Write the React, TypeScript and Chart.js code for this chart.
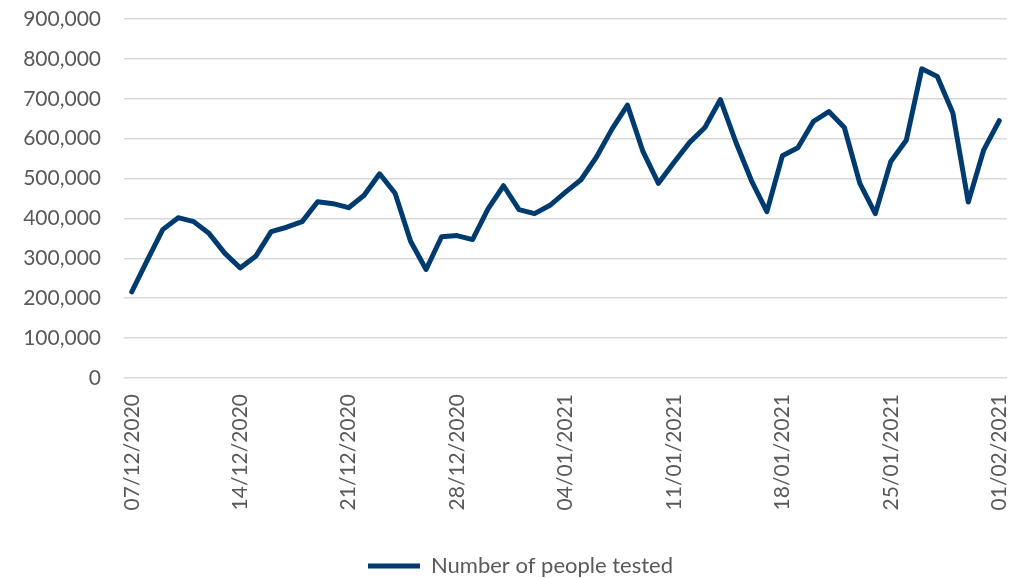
import React, { useEffect, useRef } from "react";
import { Chart, registerables } from "chart.js";

Chart.register(...registerables);

const DATES = [
  "07/12/2020", "08/12/2020", "09/12/2020", "10/12/2020", "11/12/2020", "12/12/2020", "13/12/2020",
  "14/12/2020", "15/12/2020", "16/12/2020", "17/12/2020", "18/12/2020", "19/12/2020", "20/12/2020",
  "21/12/2020", "22/12/2020", "23/12/2020", "24/12/2020", "25/12/2020", "26/12/2020", "27/12/2020",
  "28/12/2020", "29/12/2020", "30/12/2020", "31/12/2020", "01/01/2021", "02/01/2021", "03/01/2021",
  "04/01/2021", "05/01/2021", "06/01/2021", "07/01/2021", "08/01/2021", "09/01/2021", "10/01/2021",
  "11/01/2021", "12/01/2021", "13/01/2021", "14/01/2021", "15/01/2021", "16/01/2021", "17/01/2021",
  "18/01/2021", "19/01/2021", "20/01/2021", "21/01/2021", "22/01/2021", "23/01/2021", "24/01/2021",
  "25/01/2021", "26/01/2021", "27/01/2021", "28/01/2021", "29/01/2021", "30/01/2021", "31/01/2021",
  "01/02/2021",
];

const PEOPLE_TESTED = [
  216000, 295000, 372000, 402000, 392000, 362000, 313000,
  276000, 305000, 367000, 378000, 392000, 442000, 437000,
  427000, 458000, 512000, 463000, 343000, 272000, 354000,
  357000, 347000, 424000, 482000, 422000, 412000, 433000,
  466000, 497000, 554000, 624000, 684000, 568000, 488000,
  540000, 590000, 628000, 698000, 591000, 495000, 417000,
  557000, 577000, 643000, 668000, 628000, 488000, 412000,
  543000, 596000, 775000, 756000, 665000, 441000, 572000,
  645000,
];

const TICK_LABELS = [
  "07/12/2020", "14/12/2020", "21/12/2020", "28/12/2020",
  "04/01/2021", "11/01/2021", "18/01/2021", "25/01/2021", "01/02/2021",
];

const SERIES_NAME = "Number of people tested";

export default function App() {
  const ref = useRef<HTMLCanvasElement | null>(null);

  useEffect(() => {
    document.body.style.margin = "0";
    document.body.style.background = "#ffffff";
    const canvas = ref.current;
    if (!canvas) return;
    const font = { family: "Lato", size: 21 };
    const textColor = "#595959";
    const chart = new Chart(canvas, {
      type: "line",
      data: {
        labels: DATES,
        datasets: [
          {
            label: SERIES_NAME,
            data: PEOPLE_TESTED,
            borderColor: "#003b6f",
            backgroundColor: "#003b6f",
            borderWidth: 5,
            borderCapStyle: "round",
            borderJoinStyle: "round",
            pointRadius: 0,
            tension: 0,
            fill: false,
          },
        ],
      },
      options: {
        animation: false,
        responsive: false,
        devicePixelRatio: 1,
        layout: { padding: { top: 19, left: 0, right: 0, bottom: 0 } },
        plugins: {
          tooltip: { enabled: false },
          legend: {
            position: "bottom",
            labels: {
              font: { family: "Lato", size: 22 },
              color: textColor,
              usePointStyle: true,
              pointStyle: "line",
              pointStyleWidth: 52,
              padding: 10,
            },
          },
        },
        scales: {
          x: {
            offset: true,
            grid: { display: false, drawTicks: false },
            border: { display: false },
            ticks: {
              autoSkip: false,
              maxRotation: 90,
              minRotation: 90,
              padding: 16,
              font,
              color: textColor,
              callback: (_v: any, i: number) =>
                TICK_LABELS.includes(DATES[i]) ? DATES[i] : "",
            },
            afterFit: (scale: any) => {
              scale.paddingLeft = 0;
              scale.paddingRight = 34;
              scale.height = 167;
            },
          },
          y: {
            min: 0,
            max: 900000,
            grid: { color: "#d9d9d9", lineWidth: 1.5, drawTicks: false },
            border: { display: false },
            ticks: {
              stepSize: 100000,
              padding: 23,
              font,
              color: textColor,
              callback: (v: any) => Number(v).toLocaleString("en-US"),
            },
            afterFit: (scale: any) => {
              scale.width = 124;
              scale.paddingTop = 0;
              scale.paddingBottom = 0;
            },
          },
        },
      },
    });
    return () => chart.destroy();
  }, []);

  return (
    <div style={{ width: 1025, height: 578, overflow: "hidden", background: "#fff" }}>
      <div style={{ width: 1008, height: 578, overflow: "hidden" }}>
        <canvas ref={ref} width={1041} height={587} style={{ display: "block" }} />
      </div>
    </div>
  );
}
